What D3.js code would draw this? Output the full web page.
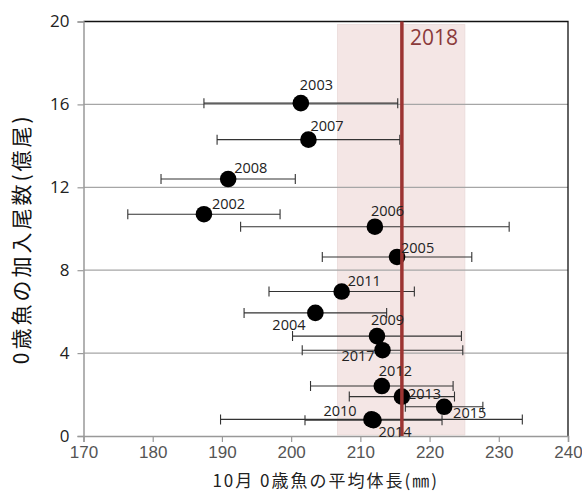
<!DOCTYPE html>
<html>
<head>
<meta charset="utf-8">
<script src="https://cdn.jsdelivr.net/npm/d3@7"></script>
<style>
  body { margin: 0; background: #fff; }
</style>
</head>
<body>
<div id="chart"></div>
<script>
// years, mean body length in Oct (mm), error half width (mm), recruitment (100 million fish)
const years     = [2003, 2007, 2008, 2002, 2006, 2005, 2011, 2004, 2009, 2017, 2012, 2013, 2015, 2010, 2014];
const meanLen   = [201.4, 202.5, 190.9, 187.4, 212.1, 215.3, 207.3, 203.5, 212.4, 213.2, 213.1, 216.0, 222.1, 211.6, 211.9];
const errLen    = [14.0, 13.2, 9.7, 11.0, 19.4, 10.8, 10.5, 10.3, 12.2, 11.6, 10.3, 7.6, 5.6, 21.8, 9.9];
const recruits  = [16.06, 14.3, 12.4, 10.7, 10.1, 8.64, 6.97, 5.94, 4.82, 4.14, 2.41, 1.9, 1.41, 0.8, 0.76];

const xTicks = [170, 180, 190, 200, 210, 220, 230, 240];
const yTicks = [0, 4, 8, 12, 16, 20];

const year2018 = 216.0;
const band2018 = [206.7, 225.1];

// label placement, px offset from each point
const labelPos = [[-1, -13], [2, -9], [6, -6], [8, -5], [-4, -11], [4, -4], [6, -6], [-43, 17],
                  [-6, -11], [-41, 11], [-3, -10], [6, 2], [9, 11], [-48, -3], [5, 17]];

const data = years.map((y, i) => ({
  year: y, x: meanLen[i], err: errLen[i], y: recruits[i], off: labelPos[i]
}));

const width = 582, height = 492;
const margin = { top: 21.5, right: 14, bottom: 56, left: 83.5 };

const svg = d3.select("#chart").append("svg")
  .attr("width", width)
  .attr("height", height);

const x = d3.scaleLinear().domain([170, 240]).range([margin.left, width - margin.right]);
const y = d3.scaleLinear().domain([0, 20]).range([height - margin.bottom, margin.top]);

// shaded range of 2018
svg.append("rect")
  .attr("x", x(band2018[0]))
  .attr("y", y(19.85))
  .attr("width", x(band2018[1]) - x(band2018[0]))
  .attr("height", y(0.05) - y(19.85))
  .attr("fill", "#f4e6e5")
  .attr("stroke", "#eadad9")
  .attr("stroke-width", 0.8);

// grid
svg.append("g")
  .selectAll("line")
  .data(yTicks.filter(d => d > 0 && d < 20))
  .enter()
  .append("line")
  .attr("x1", x(170)).attr("x2", x(240))
  .attr("y1", d => y(d)).attr("y2", d => y(d))
  .attr("stroke", "#a6a6a6")
  .attr("stroke-width", 1.2);

// frame top & right
svg.append("path")
  .attr("d", `M${x(170)},${y(20)}H${x(240)}V${y(0)}`)
  .attr("fill", "none")
  .attr("stroke", "#111")
  .attr("stroke-width", 1.3);

// axes
const xAxis = svg.append("g")
  .attr("transform", `translate(0,${y(0)})`)
  .call(d3.axisBottom(x).tickValues(xTicks).tickSize(6).tickPadding(4));
xAxis.select(".domain").attr("stroke", "#999").attr("stroke-width", 1.5);
xAxis.selectAll(".tick line").attr("stroke", "#999").attr("stroke-width", 1.2);
xAxis.selectAll("text")
  .style("font-family", "'Liberation Sans', Arial, sans-serif")
  .style("font-size", "17px")
  .attr("fill", "#555");

const yAxis = svg.append("g")
  .attr("transform", `translate(${x(170)},0)`)
  .call(d3.axisLeft(y).tickValues(yTicks).tickSize(6).tickPadding(8));
yAxis.select(".domain").attr("stroke", "#999").attr("stroke-width", 1.5);
yAxis.selectAll(".tick line").attr("stroke", "#999").attr("stroke-width", 1.2);
yAxis.selectAll("text")
  .style("font-family", "'Open Sans', sans-serif")
  .style("font-size", "17px")
  .attr("fill", "#222");

// error bars
const bars = svg.append("g");
data.forEach(d => {
  const x0 = x(d.x - d.err), x1 = x(d.x + d.err), yy = y(d.y);
  bars.append("path")
    .attr("d", `M${x0},${yy}H${x1}M${x0},${yy - 5}V${yy + 5}M${x1},${yy - 5}V${yy + 5}`)
    .attr("fill", "none")
    .attr("stroke", "#333")
    .attr("stroke-width", 1.1);
});

// points
svg.append("g")
  .selectAll("circle")
  .data(data)
  .enter()
  .append("circle")
  .attr("cx", d => x(d.x))
  .attr("cy", d => y(d.y))
  .attr("r", 8.3)
  .attr("fill", "#000");

// 2018 line
svg.append("line")
  .attr("x1", x(year2018)).attr("x2", x(year2018))
  .attr("y1", y(20)).attr("y2", y(0))
  .attr("stroke", "#9c3432")
  .attr("stroke-width", 3.5);

svg.append("text")
  .attr("x", x(year2018) + 8)
  .attr("y", 45)
  .style("font-family", "'Open Sans', sans-serif")
  .style("font-size", "21px")
  .attr("fill", "#8b3a3a")
  .text("2018");

// year labels
svg.append("g")
  .selectAll("text")
  .data(data)
  .enter()
  .append("text")
  .attr("x", d => x(d.x) + d.off[0])
  .attr("y", d => y(d.y) + d.off[1])
  .style("font-family", "'Open Sans', sans-serif")
  .style("font-size", "14.5px")
  .attr("fill", "#222")
  .text(d => d.year);

// axis titles
svg.append("text")
  .attr("x", (x(170) + x(240)) / 2)
  .attr("y", 487)
  .attr("text-anchor", "middle")
  .style("font-family", "'Noto Sans CJK JP', sans-serif")
  .style("font-size", "17px")
  .style("letter-spacing", "2px")
  .attr("fill", "#222")
  .text("10月 0歳魚の平均体長(㎜)");

svg.append("text")
  .attr("transform", `translate(29, ${(y(0) + y(20)) / 2 + 10}) rotate(-90)`)
  .attr("text-anchor", "middle")
  .style("font-family", "'Noto Sans CJK JP', sans-serif")
  .style("font-size", "21px")
  .style("letter-spacing", "3px")
  .attr("fill", "#111")
  .text("0歳魚の加入尾数(億尾)");
</script>
</body>
</html>
